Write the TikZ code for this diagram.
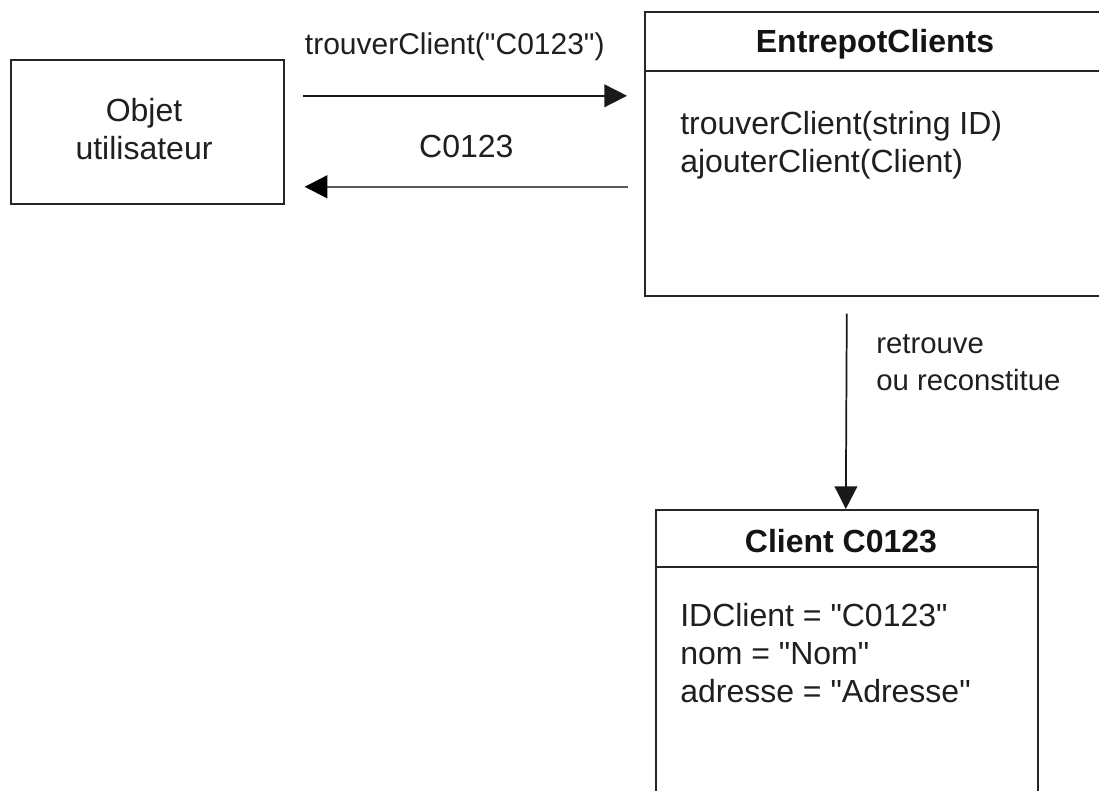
\documentclass[tikz,border=0pt]{standalone}
\usepackage{fontspec}
\setmainfont{Liberation Sans}[Ligatures=TeXOff]
\usetikzlibrary{arrows.meta}
\begin{document}
\begin{tikzpicture}[x=0.75pt,y=-0.75pt,
  every node/.style={font=\fontsize{24}{28.5}\selectfont, text=black!88, inner sep=0pt},
  box/.style={draw=black!85, line width=1.2pt, rectangle, anchor=north west},
  divider/.style={draw=black!85, line width=1.2pt},
  arr/.style={draw=black!90, line width=1.3pt, -{Triangle[length=17pt,width=17pt]}},
  arrgray/.style={draw=black!65, line width=1.6pt, -{Triangle[length=17pt,width=17pt,color=black]}},
  title/.style={font=\fontsize{24}{28.5}\selectfont\bfseries, text=black!92},
  body/.style={align=left, anchor=north west},
  small/.style={font=\fontsize{22}{27.75}\selectfont}
]
\clip (0,0) rectangle (1099,791);
\fill[white] (0,0) rectangle (1099,791);

% boxes
\node[box, minimum width=204.75pt, minimum height=108pt] (objet) at (10,59) {};
\node[align=center] (objetlbl) at (144,129) {Objet\\utilisateur};

\node[box, minimum width=357pt, minimum height=213pt] (entrepot) at (644,11) {};
\draw[divider] ([yshift=-45pt]entrepot.north west) -- ([yshift=-45pt]entrepot.north east);
\node[title] (entrepottitle) at (875,44) {EntrepotClients};
\node[body] (methods) at (680,111) {trouverClient(string ID)\\ajouterClient(Client)};

\node[box, minimum width=286.5pt, minimum height=240.75pt] (client) at (655,509) {};
\draw[divider] ([yshift=-43.5pt]client.north west) -- ([yshift=-43.5pt]client.north east);
\node[title] (clienttitle) at (841,541) {Client C0123};
\node[body] (attrs) at (680,603) {IDClient = "C0123"\\nom = "Nom"\\adresse = "Adresse"};

% connectors
\draw[arr] ([xshift=13.5pt,yshift=27pt]objet.east) -- ([xshift=-12.75pt,yshift=43.5pt]entrepot.west)
  node[midway, above=26pt, xshift=-7.5pt, font=\fontsize{22.5}{27}\selectfont] (lblcall) {trouverClient("C0123")};
\draw[arrgray] ([xshift=-12pt,yshift=-24.75pt]entrepot.west) -- ([xshift=15pt,yshift=-41.25pt]objet.east)
  node[midway, above=21pt] (lblret) {C0123};
\draw[arr] ([xshift=-27pt,yshift=-12.75pt]entrepot.south) -- ([xshift=-0.75pt]client.north);
\node[small, align=left, anchor=north west] (lblfind) at (876,334) {retrouve\\ou reconstitue};
\end{tikzpicture}
\end{document}
